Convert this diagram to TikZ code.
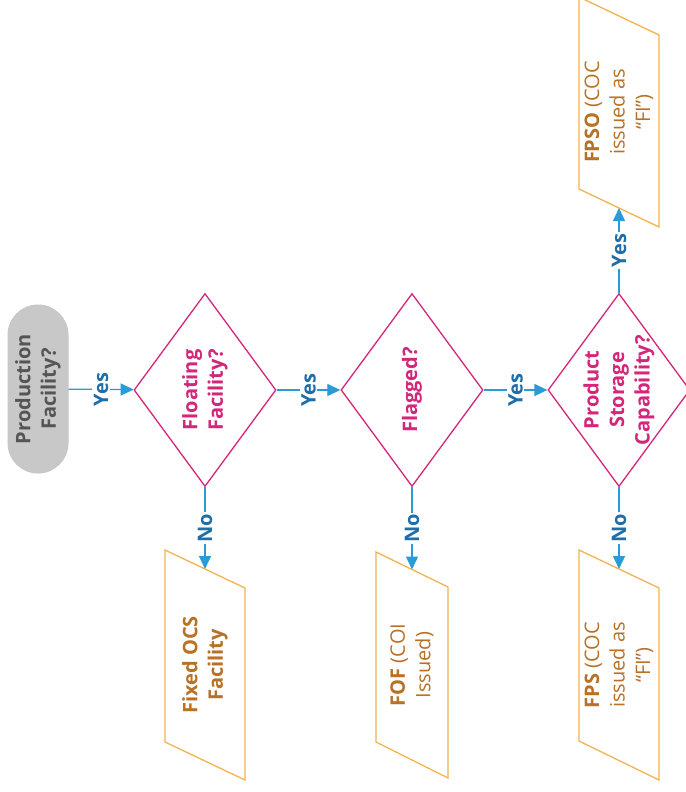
\documentclass[tikz,border=0pt]{standalone}
\usepackage{fontspec}
\setmainfont{Open Sans}
\usetikzlibrary{shapes.geometric,arrows.meta}
\definecolor{bline}{RGB}{41,155,214}
\definecolor{btext}{RGB}{31,110,168}
\definecolor{mag}{RGB}{212,38,122}
\definecolor{oline}{RGB}{245,178,80}
\definecolor{otext}{RGB}{184,113,37}
\definecolor{pillfill}{RGB}{200,200,200}
\definecolor{pilltext}{RGB}{85,85,85}
\begin{document}
\begin{tikzpicture}[x=1pt,y=-1pt,
  bigfont/.style={font=\fontsize{20}{25.5}\selectfont},
  boldfont/.style={font=\bfseries\fontsize{20}{25.5}\selectfont},
  pill/.style={rectangle,rounded corners=30pt,minimum width=168pt,minimum height=60pt,
    inner sep=0pt,rotate=90,fill=pillfill,draw=black!22,line width=1pt,
    boldfont,text=pilltext,align=center},
  dia/.style={diamond,draw=mag,line width=1.3pt,minimum width=193pt,minimum height=142pt,
    inner sep=0pt,rotate=90},
  qtext/.style={rotate=90,align=center,boldfont,text=mag,inner sep=0pt},
  ptext/.style={rotate=90,align=center,bigfont,text=otext,inner sep=0pt},
  pgline/.style={draw=oline,line width=1.3pt,line join=miter},
  arr/.style={draw=bline,line width=1.3pt,-{Triangle[length=13pt,width=12pt]}},
  lab/.style={midway,fill=white,inner sep=1.5pt,rotate=90,text=btext,boldfont}
]
\useasboundingbox[fill=white] (0,0) rectangle (685,792);

% start
\node[pill] (start) at (38,389) {Production\\Facility?};

% decisions
\node[dia] (d1) at (205,390) {};
\node[qtext] (d1t) at (d1.center) {Floating\\Facility?};
\node[dia] (d2) at (412,390) {};
\node[qtext] (d2t) at (d2.center) {Flagged?};
\node[dia] (d3) at (619,390) {};
\node[qtext] (d3t) at (d3.center) {Product\\Storage\\Capability?};

% outcome parallelograms
\draw[pgline] (165,550) -- (245,588) -- (245,780) -- (165,742) -- cycle;
\node[ptext] (fixed) at (205,665) {\textbf{Fixed OCS}\\\textbf{Facility}};
\coordinate (fixedin) at (205,569);

\draw[pgline] (376,552) -- (448,587) -- (448,778) -- (376,742) -- cycle;
\node[ptext] (fof) at (412,665) {\textbf{FOF} (COI\\Issued)};
\coordinate (fofin) at (412,569.5);

\draw[pgline] (579,550) -- (659,588) -- (659,780) -- (579,741) -- cycle;
\node[ptext] (fps) at (619,665) {\textbf{FPS} (COC\\issued as\\“FI”)};
\coordinate (fpsin) at (619,569);

\draw[pgline] (579,-3) -- (659,35) -- (659,227) -- (579,189) -- cycle;
\node[ptext] (fpso) at (619,112) {\textbf{FPSO} (COC\\issued as\\“FI”)};
\coordinate (fpsoin) at (619,208);

% connectors
\draw[arr] (start) -- node[lab] {Yes} (d1);
\draw[arr] (d1) -- node[lab] {Yes} (d2);
\draw[arr] (d2) -- node[lab] {Yes} (d3);
\draw[arr] (d1) -- node[lab] {No} (fixedin);
\draw[arr] (d2) -- node[lab] {No} (fofin);
\draw[arr] (d3) -- node[lab] {No} (fpsin);
\draw[arr] (d3) -- node[lab] {Yes} (fpsoin);
\end{tikzpicture}
\end{document}
